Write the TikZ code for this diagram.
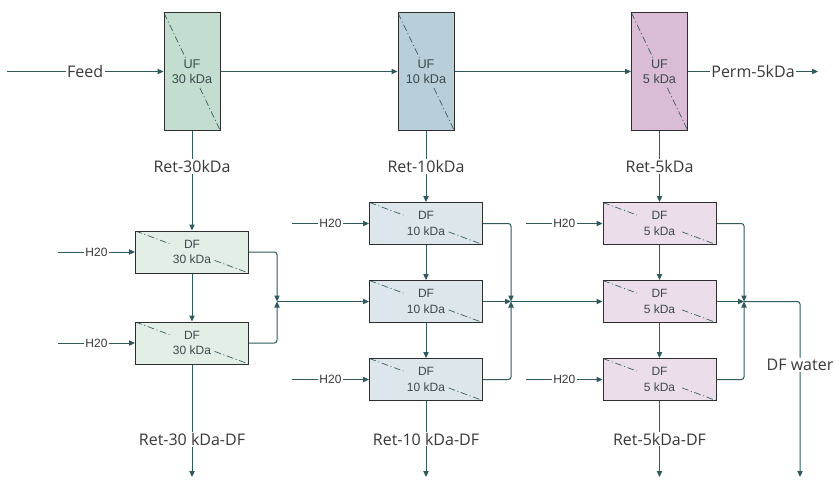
\documentclass[tikz,border=0pt]{standalone}
\usepackage{fontspec}
\setmainfont{Open Sans}
\newfontfamily\boxfont{Liberation Sans}
\usetikzlibrary{arrows.meta, positioning, calc}
\definecolor{LineTeal}{HTML}{2F5A5E}
\definecolor{EdgeGray}{HTML}{2E2E2E}
\definecolor{UFGreen}{HTML}{C3DDD0}
\definecolor{DFGreen}{HTML}{E2EEE6}
\definecolor{UFBlue}{HTML}{B8CFD9}
\definecolor{DFBlue}{HTML}{DCE6EB}
\definecolor{UFPink}{HTML}{DBBCD6}
\definecolor{DFPink}{HTML}{EBDEEA}
\definecolor{BoxText}{HTML}{3C4A4C}
\definecolor{LabelGray}{HTML}{383838}
\tikzset{
  % membrane line inside the units
  membrane/.style={LineTeal, line width=0.5pt, dash pattern=on 5pt off 2pt on 0.8pt off 2pt},
  diagcut/.style 2 args={path picture={
    \draw[membrane] (path picture bounding box.north west) -- ($(path picture bounding box.north west)!#1!(path picture bounding box.south east)$);
    \draw[membrane] ($(path picture bounding box.north west)!#2!(path picture bounding box.south east)$) -- (path picture bounding box.south east);}},
  % unit styles
  ufbox/.style={rectangle, draw=EdgeGray, line width=0.75pt, minimum width=42pt, minimum height=87.75pt, inner sep=0pt, font=\boxfont\fontsize{9.5}{11.5}\selectfont, text=BoxText, align=center, diagcut={0.4}{0.64}},
  dfbox/.style={rectangle, draw=EdgeGray, line width=0.75pt, minimum width=84.75pt, minimum height=31.5pt, inner sep=0pt, font=\boxfont\fontsize{9}{11.5}\selectfont, text=BoxText, align=center, diagcut={0.3}{0.7}},
  % connectors and labels
  flow/.style={draw=LineTeal, line width=0.75pt, -{Triangle[length=4.5pt, width=4pt]}},
  lbl/.style={fill=white, inner sep=1pt, font=\fontsize{12}{14}\selectfont, text=LabelGray},
  h2o/.style={fill=white, inner sep=1pt, font=\boxfont\fontsize{9}{11}\selectfont, text=LabelGray}
}
\begin{document}
\begin{tikzpicture}[x=0.75pt, y=-0.75pt]
  \useasboundingbox[fill=white] (0,0) rectangle (835,485);

  % ultrafiltration units
  \node[ufbox, fill=UFGreen] (uf30) at (192,71.5) {UF\\30 kDa};
  \node[ufbox, fill=UFBlue] (uf10) at (426,71.5) {UF\\10 kDa};
  \node[ufbox, fill=UFPink] (uf5) at (659.5,71.5) {UF\\5 kDa};

  % diafiltration units
  \node[dfbox, fill=DFGreen] (df30a) at (192,252) {DF\\30 kDa};
  \node[dfbox, fill=DFGreen] (df30b) at (192,343) {DF\\30 kDa};
  \foreach \i/\y in {a/223.5, b/301.5, c/379.5} {
    \node[dfbox, fill=DFBlue] (df10\i) at (426,\y) {DF\\10 kDa};
    \node[dfbox, fill=DFPink] (df5\i) at (659.5,\y) {DF\\5 kDa};
  }

  % free ends and junctions
  \coordinate (feedin) at (7,71.5);
  \coordinate (permout) at (818,71.5);
  \coordinate (m30) at (277,301.5);
  \coordinate (m10) at (511,301.5);
  \coordinate (m5) at (744,301.5);
  \coordinate (w30a) at (58,252);
  \coordinate (w30b) at (58,343);
  \coordinate (w10a) at (292,223.5);
  \coordinate (w10c) at (292,379.5);
  \coordinate (w5a) at (526,223.5);
  \coordinate (w5c) at (526,379.5);
  \coordinate (r30out) at (192,477);
  \coordinate (r10out) at (426,477);
  \coordinate (r5out) at (659.5,477);
  \coordinate (dfwout) at (800,477);

  % UF train
  \draw[flow] (feedin) -- node[lbl]{Feed} (uf30);
  \draw[flow] (uf30) -- (uf10);
  \draw[flow] (uf10) -- (uf5);
  \draw[flow] (uf5) -- node[lbl]{Perm-5kDa} (permout);
  \draw[flow] (uf30) -- node[lbl, pos=0.36]{Ret-30kDa} (df30a);
  \draw[flow] (uf10) -- node[lbl]{Ret-10kDa} (df10a);
  \draw[flow] (uf5) -- node[lbl]{Ret-5kDa} (df5a);

  % DF 30 kDa
  \draw[flow] (df30a) -- (df30b);
  \draw[flow] (w30a) -- node[h2o]{H20} (df30a);
  \draw[flow] (w30b) -- node[h2o]{H20} (df30b);
  \draw[flow, rounded corners=2pt] (df30a.east) -| (m30);
  \draw[flow, rounded corners=2pt] (df30b.east) -| (m30);
  \draw[flow] (m30) -- (df10b);
  \draw[flow] (df30b) -- node[lbl, pos=0.67]{Ret-30 kDa-DF} (r30out);

  % DF 10 kDa
  \draw[flow] (df10a) -- (df10b);
  \draw[flow] (df10b) -- (df10c);
  \draw[flow] (w10a) -- node[h2o]{H20} (df10a);
  \draw[flow] (w10c) -- node[h2o]{H20} (df10c);
  \draw[flow, rounded corners=2pt] (df10a.east) -| (m10);
  \draw[flow] (df10b) -- (m10);
  \draw[flow, rounded corners=2pt] (df10c.east) -| (m10);
  \draw[flow] (m10) -- (df5b);
  \draw[flow] (df10c) -- node[lbl]{Ret-10 kDa-DF} (r10out);

  % DF 5 kDa
  \draw[flow] (df5a) -- (df5b);
  \draw[flow] (df5b) -- (df5c);
  \draw[flow] (w5a) -- node[h2o]{H20} (df5a);
  \draw[flow] (w5c) -- node[h2o]{H20} (df5c);
  \draw[flow, rounded corners=2pt] (df5a.east) -| (m5);
  \draw[flow] (df5b) -- (m5);
  \draw[flow, rounded corners=2pt] (df5c.east) -| (m5);
  \draw[flow] (df5c) -- node[lbl]{Ret-5kDa-DF} (r5out);
  \draw[flow, rounded corners=2pt] (m5) -| node[lbl, pos=0.68]{DF water} (dfwout);
\end{tikzpicture}
\end{document}
